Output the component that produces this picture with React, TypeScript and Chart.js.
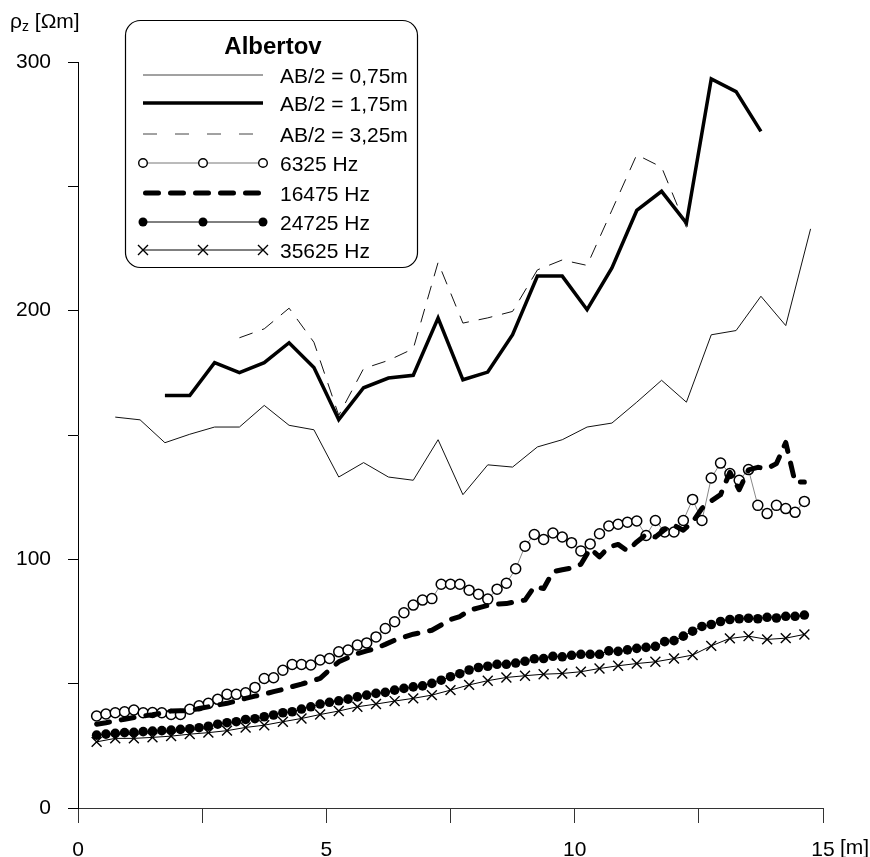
import React, { useEffect, useRef } from "react";
import { Chart, registerables } from "chart.js";

Chart.register(...registerables);

const FONT = "'Liberation Sans', Arial, Helvetica, sans-serif";

// ---- Data ----
const TITLE = "Albertov";
const Y_UNIT = "[Ωm]";
const X_UNIT = "[m]";
const SERIES_LABELS = [
  "AB/2 = 0,75m",
  "AB/2 = 1,75m",
  "AB/2 = 3,25m",
  "6325 Hz",
  "16475 Hz",
  "24725 Hz",
  "35625 Hz",
];

// resistivity profiles (x start, step 0.5 m)
const AB_STEP = 0.5;
const AB075_START = 0.75;
const ab075 = [
  157.2, 156.1, 146.9, 150.3, 153.2, 153.2, 161.9, 153.9, 152.1, 133.1,
  138.9, 133.1, 131.8, 148.1, 126.0, 138.0, 137.1, 145.2, 148.1, 153.2,
  154.8, 163.2, 172.0, 163.2, 190.3, 192.0, 205.8, 194.0, 232.9,
];
const AB175_START = 1.75;
const ab175 = [
  165.9, 165.9, 179.1, 175.1, 179.1, 187.1, 177.1, 156.2, 169.0, 172.9,
  174.0, 197.0, 172.2, 175.3, 190.3, 213.9, 213.9, 200.4, 217.2, 240.3,
  248.0, 235.2, 293.2, 288.1, 272.1,
];
const AB325_START = 3.25;
const ab325 = [
  189.1, 192.7, 201.0, 187.3, 157.9, 176.7, 180.0, 184.7, 219.4, 195.0,
  197.1, 199.7, 216.4, 220.4, 218.2, 240.4, 262.7, 257.7, 233.5,
];

// frequency profiles
const FINE_START = 0.375;
const FINE_STEP = 0.1875;
const hz6325 = [
  37.0, 37.8, 38.3, 38.7, 39.4, 38.3, 38.4, 38.3, 37.6, 37.6,
  39.7, 41.1, 42.1, 43.7, 45.7, 45.7, 46.3, 48.5, 52.1, 52.4,
  55.4, 57.7, 57.7, 57.5, 59.5, 60.1, 62.8, 63.5, 65.5, 66.4,
  68.8, 72.2, 74.9, 78.5, 81.6, 83.6, 84.2, 90.0, 90.0, 90.0,
  87.6, 86.0, 84.0, 88.0, 90.4, 96.2, 105.3, 110.0, 108.0, 110.6,
  109.0, 106.7, 103.4, 106.2, 110.3, 113.4, 114.1, 114.9, 115.4, 109.6,
  115.6, 111.0, 111.0, 115.6, 124.1, 115.6, 132.7, 138.7, 134.5, 131.8,
  136.1, 121.7, 118.4, 121.7, 120.4, 118.9, 123.3,
];
const hz16475 = [
  33.7, 34.3, 35.0, 35.7, 36.4, 37.0, 37.5, 38.2, 39.0, 39.1,
  39.2, 40.0, 40.7, 41.4, 42.1, 43.1, 44.1, 45.0, 45.8, 46.8,
  47.7, 48.8, 49.8, 51.0, 52.1, 55.5, 58.8, 60.5, 62.1, 63.2,
  64.2, 65.8, 67.5, 68.7, 69.9, 70.7, 71.5, 73.6, 75.8, 77.0,
  79.5, 80.5, 81.5, 82.0, 82.2, 83.0, 83.6, 89.0, 88.3, 95.0,
  95.8, 96.5, 98.0, 104.3, 101.0, 105.0, 106.0, 103.4, 107.0, 110.0,
  109.0, 112.0, 113.7, 111.7, 115.0, 120.5, 123.5, 126.0, 135.0, 128.0,
  136.0, 137.0, 136.5, 138.5, 147.0, 131.0, 131.1,
];
const hz24725 = [
  29.3, 29.7, 30.0, 30.3, 30.4, 30.7, 30.9, 31.1, 31.3, 31.6,
  31.9, 32.3, 32.9, 33.7, 34.3, 34.7, 35.6, 35.9, 36.7, 37.4,
  38.3, 38.7, 39.8, 40.7, 41.8, 42.5, 43.1, 43.8, 44.7, 45.4,
  46.1, 46.5, 47.4, 48.1, 48.7, 49.1, 50.1, 51.4, 52.8, 54.0,
  55.5, 56.5, 57.0, 57.8, 57.8, 58.3, 59.0, 60.0, 60.1, 61.0,
  60.8, 61.4, 61.8, 61.8, 61.8, 63.2, 63.0, 63.6, 64.2, 64.6,
  65.0, 66.9, 67.3, 69.1, 71.1, 73.0, 73.8, 75.0, 75.8, 76.1,
  76.3, 76.1, 76.7, 76.4, 77.1, 77.1, 77.6,
];
const COARSE_STEP = 0.375;
const hz35625 = [
  26.6, 28.0, 28.0, 28.4, 28.9, 29.7, 30.3, 31.1, 32.4, 33.3,
  34.7, 36.0, 37.6, 39.0, 40.7, 41.8, 43.0, 44.1, 45.4, 47.4,
  49.5, 51.2, 52.5, 53.2, 53.8, 54.1, 54.8, 56.1, 57.2, 58.1,
  58.8, 60.1, 61.5, 65.2, 68.2, 69.1, 67.8, 68.3, 69.8,
];

const X_MIN = 0;
const X_MAX = 15;
const X_STEP = 2.5;
const X_LABEL_EVERY = 5;
const Y_MIN = 0;
const Y_MAX = 300;
const Y_STEP = 50;
const Y_LABEL_EVERY = 100;

const toPoints = (start: number, step: number, vals: number[]) =>
  vals.map((y, i) => ({ x: start + step * i, y }));

// legend geometry (page pixels)
const LG = { left: 125.5, top: 20.5, width: 292, height: 247, radius: 15 };
const LG_ROWS = [75, 103, 134, 163, 193, 222, 250];
const LG_X1 = 143;
const LG_X2 = 263;
const LG_TEXT_X = 280;

function LegendSample({ idx, y }: { idx: number; y: number }) {
  const xs = [LG_X1, (LG_X1 + LG_X2) / 2, LG_X2];
  switch (idx) {
    case 0:
      return <line x1={LG_X1} x2={LG_X2} y1={y} y2={y} stroke="#444" strokeWidth={1} />;
    case 1:
      return <line x1={LG_X1} x2={LG_X2} y1={y} y2={y} stroke="#000" strokeWidth={3.5} />;
    case 2:
      return (
        <line x1={LG_X1} x2={LG_X2} y1={y} y2={y} stroke="#444" strokeWidth={1} strokeDasharray="14 18" />
      );
    case 3:
      return (
        <g>
          <line x1={LG_X1} x2={LG_X2} y1={y} y2={y} stroke="#777" strokeWidth={1} />
          {xs.map((x) => (
            <circle key={x} cx={x} cy={y} r={4.3} fill="#fff" stroke="#000" strokeWidth={1.4} />
          ))}
        </g>
      );
    case 4:
      return (
        <line
          x1={LG_X1 + 2.5}
          x2={LG_X2 - 2.5}
          y1={y}
          y2={y}
          stroke="#000"
          strokeWidth={5}
          strokeLinecap="round"
          strokeDasharray="13 12"
        />
      );
    case 5:
      return (
        <g>
          <line x1={LG_X1} x2={LG_X2} y1={y} y2={y} stroke="#000" strokeWidth={1} />
          {xs.map((x) => (
            <circle key={x} cx={x} cy={y} r={4.5} fill="#000" />
          ))}
        </g>
      );
    default:
      return (
        <g>
          <line x1={LG_X1} x2={LG_X2} y1={y} y2={y} stroke="#000" strokeWidth={1} />
          {xs.map((x) => (
            <path
              key={x}
              d={`M${x - 5},${y - 5} L${x + 5},${y + 5} M${x - 5},${y + 5} L${x + 5},${y - 5}`}
              stroke="#000"
              strokeWidth={1.4}
            />
          ))}
        </g>
      );
  }
}

export default function App() {
  const ref = useRef<HTMLCanvasElement | null>(null);

  useEffect(() => {
    if (!ref.current) return;
    Chart.defaults.font.family = FONT;
    Chart.defaults.color = "#000";
    const chart = new Chart(ref.current, {
      type: "line",
      data: {
        datasets: [
          {
            label: SERIES_LABELS[0],
            data: toPoints(AB075_START, AB_STEP, ab075),
            borderColor: "#111",
            borderWidth: 1,
            pointRadius: 0,
            order: 6,
          },
          {
            label: SERIES_LABELS[1],
            data: toPoints(AB175_START, AB_STEP, ab175),
            borderColor: "#000",
            borderWidth: 3.5,
            pointRadius: 0,
            order: 5,
          },
          {
            label: SERIES_LABELS[2],
            data: toPoints(AB325_START, AB_STEP, ab325),
            borderColor: "#111",
            borderWidth: 1,
            borderDash: [14, 10],
            pointRadius: 0,
            order: 4,
          },
          {
            label: SERIES_LABELS[3],
            data: toPoints(FINE_START, FINE_STEP, hz6325),
            borderColor: "#888",
            borderWidth: 1,
            pointRadius: 5,
            pointStyle: "circle",
            pointBackgroundColor: "#fff",
            pointBorderColor: "#000",
            pointBorderWidth: 1.5,
            order: 3,
          },
          {
            label: SERIES_LABELS[4],
            data: toPoints(FINE_START, FINE_STEP, hz16475),
            borderColor: "#000",
            borderWidth: 5,
            borderDash: [13, 12],
            borderCapStyle: "round",
            borderJoinStyle: "round",
            pointRadius: 0,
            order: 0,
          },
          {
            label: SERIES_LABELS[5],
            data: toPoints(FINE_START, FINE_STEP, hz24725),
            borderColor: "#000",
            borderWidth: 1,
            pointRadius: 4.8,
            pointStyle: "circle",
            pointBackgroundColor: "#000",
            pointBorderColor: "#000",
            pointBorderWidth: 0,
            order: 2,
          },
          {
            label: SERIES_LABELS[6],
            data: toPoints(FINE_START, COARSE_STEP, hz35625),
            borderColor: "#000",
            borderWidth: 1,
            pointRadius: 7,
            pointStyle: "crossRot",
            pointBorderColor: "#000",
            pointBorderWidth: 1.4,
            order: 1,
          },
        ],
      },
      options: {
        animation: false,
        responsive: false,
        devicePixelRatio: 1,
        layout: { padding: { top: 62, right: 47, left: 0, bottom: 0 } },
        elements: { line: { tension: 0, fill: false } },
        plugins: { legend: { display: false }, tooltip: { enabled: false } },
        scales: {
          x: {
            type: "linear",
            min: X_MIN,
            max: X_MAX,
            border: { display: true, color: "#333", width: 1 },
            grid: { drawOnChartArea: false, drawTicks: true, tickLength: 15, color: "#333" },
            ticks: {
              stepSize: X_STEP,
              autoSkip: false,
              maxRotation: 0,
              padding: 15,
              color: "#000",
              font: { family: FONT, size: 21 },
              callback: (v: any) => (Number(v) % X_LABEL_EVERY === 0 ? String(v) : ""),
            },
            afterFit: (s: any) => {
              s.height = 49;
            },
          },
          y: {
            type: "linear",
            min: Y_MIN,
            max: Y_MAX,
            border: { display: true, color: "#000", width: 1 },
            grid: { drawOnChartArea: false, drawTicks: true, tickLength: 10, color: "#000" },
            ticks: {
              stepSize: Y_STEP,
              padding: 17,
              color: "#000",
              font: { family: FONT, size: 21 },
              callback: (v: any) => (Number(v) % Y_LABEL_EVERY === 0 ? String(v) : ""),
            },
            afterFit: (s: any) => {
              s.width = 78;
            },
          },
        },
      },
    });
    return () => chart.destroy();
  }, []);

  return (
    <div style={{ position: "absolute", left: 0, top: 0, width: 870, height: 857, background: "#fff" }}>
      <canvas ref={ref} width={870} height={857} style={{ position: "absolute", left: 0, top: 0 }} />
      <svg
        width={870}
        height={857}
        style={{ position: "absolute", left: 0, top: 0, pointerEvents: "none" }}
        fontFamily={FONT}
      >
        <text x={10} y={28} fontSize={21} fill="#000">
          ρ
          <tspan fontSize={14} dy={3}>
            z
          </tspan>
          <tspan dy={-3}> {Y_UNIT}</tspan>
        </text>
        <text x={840} y={854} fontSize={21} fill="#000">
          {X_UNIT}
        </text>
        <rect
          x={LG.left}
          y={LG.top}
          width={LG.width}
          height={LG.height}
          rx={LG.radius}
          ry={LG.radius}
          fill="#fff"
          stroke="#000"
          strokeWidth={1.2}
        />
        <text x={273} y={54} fontSize={24} fontWeight="bold" textAnchor="middle" fill="#000">
          {TITLE}
        </text>
        {SERIES_LABELS.map((lbl, i) => (
          <g key={lbl}>
            <LegendSample idx={i} y={LG_ROWS[i]} />
            <text x={LG_TEXT_X} y={LG_ROWS[i] + 7.5} fontSize={21} fill="#000">
              {lbl}
            </text>
          </g>
        ))}
      </svg>
    </div>
  );
}
